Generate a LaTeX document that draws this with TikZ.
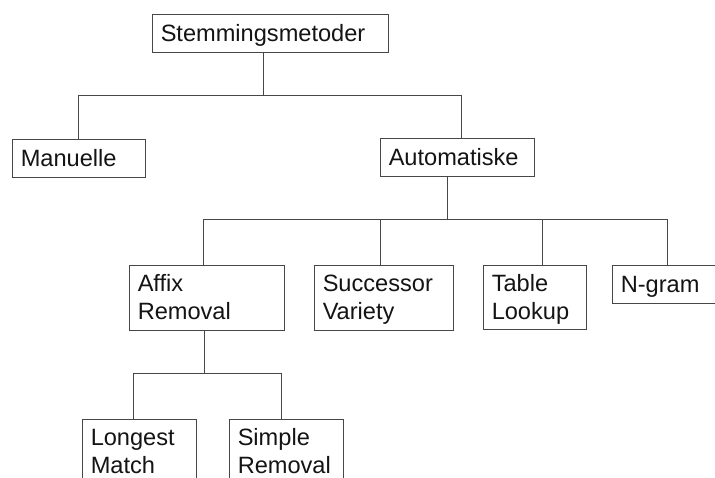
\documentclass[tikz,border=0pt]{standalone}
\usepackage{fontspec}
\setmainfont{Liberation Sans}
% a line of box text whose height is the cap height and whose depth is zero,
% so every label centres on its capitals
\newcommand\capline[1]{\raisebox{0pt}[0.716em][0pt]{#1}}
\begin{document}
\begin{tikzpicture}[x=1pt,y=-1pt,
  box/.style={draw=black!72,line width=0.9pt,rectangle,inner sep=0pt},
  lbl/.style={anchor=west,inner sep=0pt,align=left,text=black!92,
    font=\fontsize{23.6}{28}\selectfont},
  wire/.style={draw=black!72,line width=0.9pt}]
\fill[white] (0,0) rectangle (715,478);
\useasboundingbox (0,0) rectangle (715,478);

% boxes
\node[box,minimum width=236pt,minimum height=38pt] (root) at (270,33) {};
\node[box,minimum width=133pt,minimum height=38pt] (man) at (78.5,158) {};
\node[box,minimum width=154pt,minimum height=38pt] (auto) at (457,157) {};
\node[box,minimum width=155pt,minimum height=65pt] (affix) at (206.5,297.5) {};
\node[box,minimum width=139pt,minimum height=65pt] (succ) at (383.5,297.5) {};
\node[box,minimum width=103pt,minimum height=64pt] (table) at (534.5,297) {};
\node[box,minimum width=104pt,minimum height=38pt] (ngram) at (664,284) {};
\node[box,minimum width=114pt,minimum height=65pt] (longest) at (139,451.5) {};
\node[box,minimum width=114pt,minimum height=65pt] (simple) at (286,451.5) {};

% labels
\node[lbl] (rootT) at ([xshift=9pt]root.west) {\capline{Stemmingsmetoder}};
\node[lbl] (manT) at ([xshift=9pt]man.west) {\capline{Manuelle}};
\node[lbl] (autoT) at ([xshift=9pt]auto.west) {\capline{Automatiske}};
\node[lbl] (affixT) at ([xshift=9pt]affix.west) {\capline{Affix}\\\capline{Removal}};
\node[lbl] (succT) at ([xshift=9pt]succ.west) {\capline{Successor}\\\capline{Variety}};
\node[lbl] (tableT) at ([xshift=9pt]table.west) {\capline{Table}\\\capline{Lookup}};
\node[lbl] (ngramT) at ([xshift=9pt]ngram.west) {\capline{N-gram}};
\node[lbl] (longestT) at ([xshift=9pt]longest.west) {\capline{Longest}\\\capline{Match}};
\node[lbl] (simpleT) at ([xshift=9pt]simple.west) {\capline{Simple}\\\capline{Removal}};

% first level
\draw[wire] ([xshift=-7pt]root.south) -- ++(0,44);
\draw[wire] (man.north) -- ++(0,-43) -| ([xshift=4pt]auto.north);

% second level
\draw[wire] ([xshift=-10pt]auto.south) -- ++(0,44);
\draw[wire] ([xshift=-3.5pt]affix.north) -- ++(0,-45) -| ([xshift=3pt]ngram.north);
\draw[wire] ([xshift=-3.5pt]succ.north) -- ++(0,-45);
\draw[wire] ([xshift=7.5pt]table.north) -- ++(0,-45);

% third level
\draw[wire] ([xshift=-2.5pt]affix.south) -- ++(0,44);
\draw[wire] ([xshift=-6pt]longest.north) -- ++(0,-45) -| ([xshift=-5pt]simple.north);
\end{tikzpicture}
\end{document}
